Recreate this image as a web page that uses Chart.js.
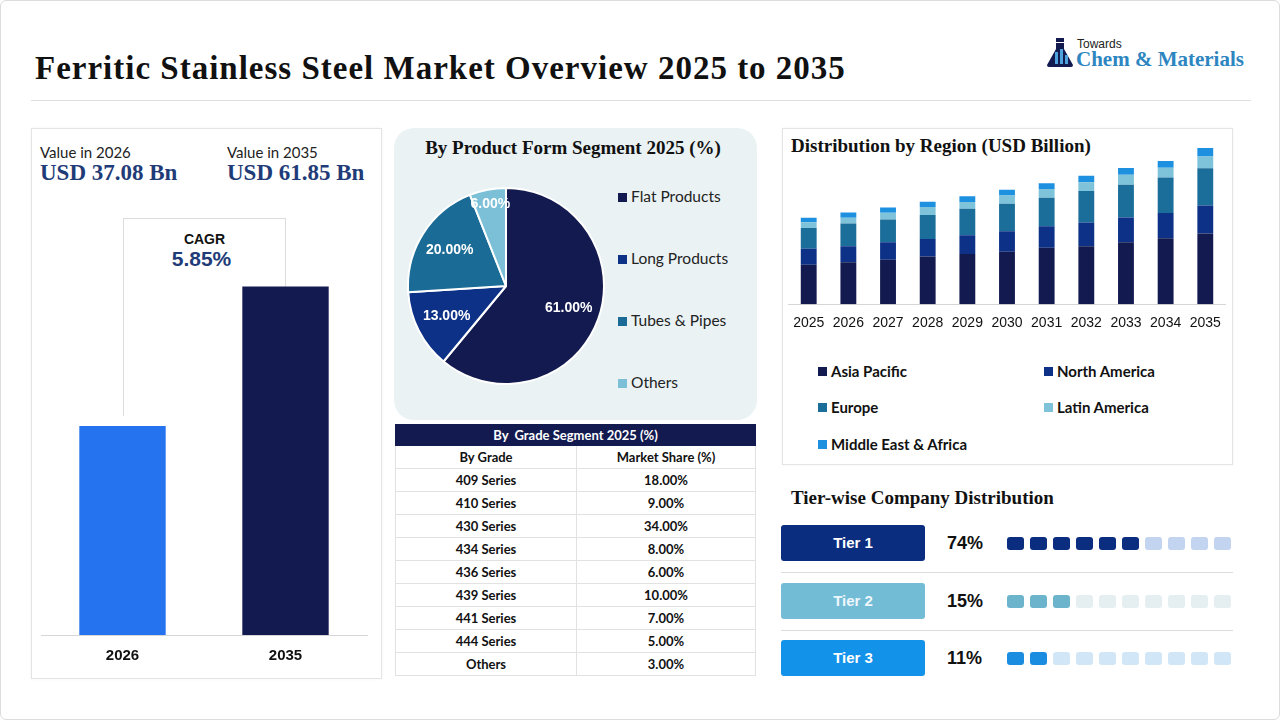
<!DOCTYPE html>
<html>
<head>
<meta charset="utf-8">
<script src="https://cdn.jsdelivr.net/npm/chart.js@4.4.1/dist/chart.umd.min.js"></script>
<style>
body { margin: 0; background: #fff; }
#page { position: relative; width: 1280px; height: 720px; overflow: hidden; box-sizing: border-box;
        border: 1px solid #dcdcdc; border-radius: 6px; font-family: 'Lato', 'Liberation Sans', sans-serif; color: #111; }
.abs { position: absolute; white-space: nowrap; }
.serif { font-family: 'Liberation Serif', 'DejaVu Serif', serif; font-weight: bold; }
.arial { font-family: 'Liberation Sans', Arial, sans-serif; }
.panel { position: absolute; border: 1px solid #e4e4e4; box-shadow: 0 0 3px rgba(0,0,0,0.05); box-sizing: border-box; }
canvas { position: absolute; }
#gradeTable { position: absolute; left: 394px; top: 423px; width: 361px; border-collapse: collapse;
              font-family: 'Lato', sans-serif; font-weight: bold; font-size: 13px; color: #111; }
#gradeTable td { border: 1px solid #e2e2e2; text-align: center; padding: 0; height: 22px; }
#gradeTable tr.head td { background: #131a4f; color: #fff; height: 20px; border-color: #131a4f; }
.sq { position: absolute; width: 9px; height: 9px; }
.dot { position: absolute; width: 17px; height: 13px; border-radius: 3px; }
.pill { position: absolute; left: 780px; width: 144px; height: 36px; border-radius: 3px; color: #fff;
        font: bold 15px 'Liberation Sans', Arial, sans-serif; text-align: center; line-height: 36px; }
</style>
</head>
<body>
<div id="page">

  <!-- header -->
  <div class="abs serif" style="left:34px;top:47px;font-size:33px;letter-spacing:1px;line-height:40px;">Ferritic Stainless Steel Market Overview 2025 to 2035</div>
  <div class="abs" style="left:30px;top:99px;width:1220px;height:1px;background:#dedede;"></div>
  <svg class="abs" style="left:1045px;top:37px;" width="28" height="30" viewBox="0 0 28 30">
    <rect x="10" y="0" width="8" height="4" fill="#131a4f"/>
    <path d="M10 5 L18 5 L18 11 L27 27 Q27 29 25 29 L3 29 Q1 29 1 27 L10 11 Z" fill="#131a4f"/>
    <rect x="9" y="14" width="3" height="12" fill="#4fa3dc"/>
    <rect x="14" y="11" width="3" height="15" fill="#4fa3dc"/>
    <rect x="19" y="17" width="3" height="9" fill="#4fa3dc"/>
  </svg>
  <div class="abs arial" style="left:1076px;top:36px;font-size:12px;line-height:14px;color:#222;">Towards</div>
  <div class="abs serif" style="left:1075px;top:46px;font-size:21px;line-height:24px;color:#2e86c1;">Chem &amp; Materials</div>

  <!-- left KPI panel -->
  <div class="panel" style="left:30px;top:127px;width:351px;height:551px;"></div>
  <div class="abs" style="left:39px;top:142px;font-size:15px;line-height:18px;color:#222;">Value in 2026</div>
  <div class="abs serif" id="kpiA" style="left:39px;top:159px;font-size:23px;line-height:26px;color:#1f3c78;"></div>
  <div class="abs" style="left:226px;top:142px;font-size:15px;line-height:18px;color:#222;">Value in 2035</div>
  <div class="abs serif" id="kpiB" style="left:226px;top:159px;font-size:23px;line-height:26px;color:#1f3c78;"></div>
  <div class="abs" style="left:122px;top:217px;width:163px;height:198px;border:1px solid #dcdcdc;border-bottom:none;box-sizing:border-box;"></div>
  <div class="abs arial" style="left:122px;top:230px;width:163px;text-align:center;font-weight:bold;font-size:14px;line-height:16px;">CAGR</div>
  <div class="abs arial" id="cagrText" style="left:122px;top:246px;width:157px;text-align:center;font-weight:bold;font-size:21px;line-height:24px;color:#1f3c78;"></div>
  <canvas id="kpiChart" width="350" height="476" style="left:30px;top:200px;"></canvas>

  <!-- pie panel -->
  <div class="abs" style="left:393px;top:127px;width:363px;height:292px;background:#eaf2f4;border-radius:20px;"></div>
  <div class="abs serif" style="left:393px;top:136px;width:358px;text-align:center;font-size:19px;line-height:22px;">By Product Form Segment 2025 (%)</div>
  <canvas id="pieChart" width="198" height="198" style="left:406px;top:186px;"></canvas>
  <div id="pieLegend"></div>

  <!-- grade table -->
  <table id="gradeTable"></table>

  <!-- region panel -->
  <div class="panel" style="left:781px;top:127px;width:451px;height:337px;"></div>
  <div class="abs serif" style="left:790px;top:134px;font-size:19px;line-height:22px;">Distribution by Region (USD Billion)</div>
  <canvas id="regionChart" width="450" height="204" style="left:781px;top:138px;"></canvas>
  <div id="regionLegend"></div>

  <!-- tiers -->
  <div class="abs serif" style="left:790px;top:486px;font-size:19px;line-height:22px;">Tier-wise Company Distribution</div>
  <div id="tiers"></div>
</div>

<script>
// KPI bars
var kpiYears = ['2026', '2035'];
var kpiValues = [37.08, 61.85];
var cagrValue = 5.85;

// product form pie
var formLabels = ['Flat Products', 'Long Products', 'Tubes & Pipes', 'Others'];
var formShares = [61, 13, 20, 6];

// grade table
var gradeLabels = ['409 Series', '410 Series', '430 Series', '434 Series', '436 Series', '439 Series', '441 Series', '444 Series', 'Others'];
var gradeShares = [18, 9, 34, 8, 6, 10, 7, 5, 3];

// region stacked bars (USD Bn)
var regionYears = ['2025', '2026', '2027', '2028', '2029', '2030', '2031', '2032', '2033', '2034', '2035'];
var asiaPacific = [15.6, 16.6, 17.6, 18.9, 19.9, 20.8, 22.4, 23.0, 24.6, 26.1, 28.0];
var northAmerica = [6.4, 6.4, 7.0, 7.0, 7.4, 8.1, 8.5, 9.4, 9.8, 10.1, 11.1];
var europe = [8.2, 9.0, 9.0, 9.5, 10.5, 10.9, 11.3, 12.5, 13.0, 14.0, 14.8];
var latinAmerica = [2.3, 2.3, 2.7, 3.1, 2.7, 3.3, 3.5, 3.5, 3.9, 3.9, 4.7];
var middleEastAfrica = [1.8, 2.1, 2.0, 2.1, 2.3, 2.3, 2.3, 2.5, 2.7, 2.7, 3.3];
var regionNames = ['Asia Pacific', 'North America', 'Europe', 'Latin America', 'Middle East & Africa'];

// tiers
var tierNames = ['Tier 1', 'Tier 2', 'Tier 3'];
var tierShares = [74, 15, 11];
var tierDots = [6, 3, 2];

var pieColors = ['#131a4f', '#0c3186', '#1a6b96', '#7cc0d7'];
var regionColors = ['#131a4f', '#0c3186', '#1b6e9a', '#7ec3d9', '#1d90e0'];
var tierColors = ['#0b2d7f', '#72bcd6', '#1392ea'];
var dotOn = ['#0b2d7f', '#6cb4cb', '#1a8de0'];
var dotOff = ['#c2d4ef', '#e5eef1', '#d1e6f6'];

document.getElementById('kpiA').textContent = 'USD ' + kpiValues[0].toFixed(2) + ' Bn';
document.getElementById('kpiB').textContent = 'USD ' + kpiValues[1].toFixed(2) + ' Bn';
document.getElementById('cagrText').textContent = cagrValue.toFixed(2) + '%';

// left bar chart
new Chart(document.getElementById('kpiChart'), {
    type: 'bar',
    data: {
        labels: kpiYears,
        datasets: [{
            data: kpiValues,
            backgroundColor: ['#2673f0', '#131a4f'],
            barPercentage: 0.53,
            categoryPercentage: 1
        }]
    },
    options: {
        responsive: false,
        animation: false,
        layout: { padding: { left: 10, right: 14, bottom: 0 } },
        plugins: { legend: { display: false }, tooltip: { enabled: false } },
        scales: {
            x: {
                grid: { display: true, drawOnChartArea: false, drawTicks: false },
                border: { display: true, color: '#d6d6d6' },
                ticks: { padding: 12, color: '#111', font: { family: 'Liberation Sans', size: 15, weight: 'bold' } }
            },
            y: { display: false, min: 0, max: 77 }
        }
    }
});

// pie chart with labels inside slices
var pieLabels = {
    id: 'pieLabels',
    afterDatasetsDraw: function(chart) {
        var ctx = chart.ctx;
        var meta = chart.getDatasetMeta(0);
        ctx.save();
        ctx.fillStyle = '#fff';
        ctx.font = 'bold 14px "Liberation Sans"';
        ctx.textAlign = 'center';
        ctx.textBaseline = 'middle';
        meta.data.forEach(function(arc, i) {
            var p = arc.getProps(['x', 'y', 'startAngle', 'endAngle', 'outerRadius']);
            var mid = (p.startAngle + p.endAngle) / 2;
            var f = formShares[i] < 10 ? 0.85 : 0.68;
            ctx.fillText(formShares[i].toFixed(2) + '%', p.x + Math.cos(mid) * p.outerRadius * f, p.y + Math.sin(mid) * p.outerRadius * f);
        });
        ctx.restore();
    }
};
new Chart(document.getElementById('pieChart'), {
    type: 'pie',
    data: {
        labels: formLabels,
        datasets: [{ data: formShares, backgroundColor: pieColors, borderColor: '#ffffff', borderWidth: 2 }]
    },
    options: {
        responsive: false,
        animation: false,
        plugins: { legend: { display: false }, tooltip: { enabled: false } }
    },
    plugins: [pieLabels]
});

var html = '';
formLabels.forEach(function(name, i) {
    var cy = 196 + i * 62;
    html += '<div class="sq" style="left:617px;top:' + (cy - 4) + 'px;background:' + pieColors[i] + '"></div>';
    html += '<div class="abs" style="left:630px;top:' + (cy - 10) + 'px;font-size:15.5px;line-height:18px;color:#222;">' + name.replace('&', '&amp;') + '</div>';
});
document.getElementById('pieLegend').innerHTML = html;

// grade table
var rows = '<tr class="head"><td colspan="2">By&nbsp; Grade Segment 2025 (%)</td></tr>';
rows += '<tr><td style="width:180px;height:21px;">By Grade</td><td>Market Share (%)</td></tr>';
gradeLabels.forEach(function(g, i) {
    rows += '<tr><td>' + g + '</td><td>' + gradeShares[i].toFixed(2) + '%</td></tr>';
});
document.getElementById('gradeTable').innerHTML = rows;

// region stacked chart
var regionSeries = [asiaPacific, northAmerica, europe, latinAmerica, middleEastAfrica];
new Chart(document.getElementById('regionChart'), {
    type: 'bar',
    data: {
        labels: regionYears,
        datasets: regionSeries.map(function(s, i) {
            return { label: regionNames[i], data: s, backgroundColor: regionColors[i], barPercentage: 0.4, categoryPercentage: 1 };
        })
    },
    options: {
        responsive: false,
        animation: false,
        layout: { padding: { left: 5, right: 5, bottom: 0 } },
        plugins: { legend: { display: false }, tooltip: { enabled: false } },
        scales: {
            x: {
                stacked: true,
                grid: { display: true, drawOnChartArea: false, drawTicks: false },
                border: { display: true, color: '#d6d6d6' },
                ticks: { padding: 11, color: '#111', font: { family: 'Liberation Sans', size: 14 } }
            },
            y: { stacked: true, display: false, min: 0, max: 65.5 }
        }
    }
});

html = '';
var legendPos = [[817, 370], [1043, 370], [817, 406], [1043, 406], [817, 443]];
regionNames.forEach(function(name, i) {
    var p = legendPos[i];
    html += '<div class="sq" style="left:' + p[0] + 'px;top:' + (p[1] - 4) + 'px;background:' + regionColors[i] + '"></div>';
    html += '<div class="abs" style="left:' + (p[0] + 13) + 'px;top:' + (p[1] - 9) + 'px;font-size:15px;font-weight:bold;line-height:18px;color:#111;">' + name.replace('&', '&amp;') + '</div>';
});
document.getElementById('regionLegend').innerHTML = html;

// tier rows
html = '';
var tierTop = [524, 582, 639];
tierNames.forEach(function(name, i) {
    var t = tierTop[i];
    html += '<div class="pill" style="top:' + t + 'px;background:' + tierColors[i] + ';' + (i == 1 ? 'color:#eef7fb;' : '') + '">' + name + '</div>';
    html += '<div class="abs arial" style="left:946px;top:' + (t + 7) + 'px;font-size:18px;font-weight:bold;line-height:22px;">' + tierShares[i] + '%</div>';
    for (var k = 0; k < 10; k++) {
        html += '<div class="dot" style="left:' + (1006 + k * 23) + 'px;top:' + (t + 12) + 'px;background:' + (k < tierDots[i] ? dotOn[i] : dotOff[i]) + '"></div>';
    }
    if (i < 2) {
        html += '<div class="abs" style="left:780px;top:' + (t + 47) + 'px;width:452px;height:1px;background:#dcdcdc;"></div>';
    }
});
document.getElementById('tiers').innerHTML = html;
</script>
</body>
</html>
